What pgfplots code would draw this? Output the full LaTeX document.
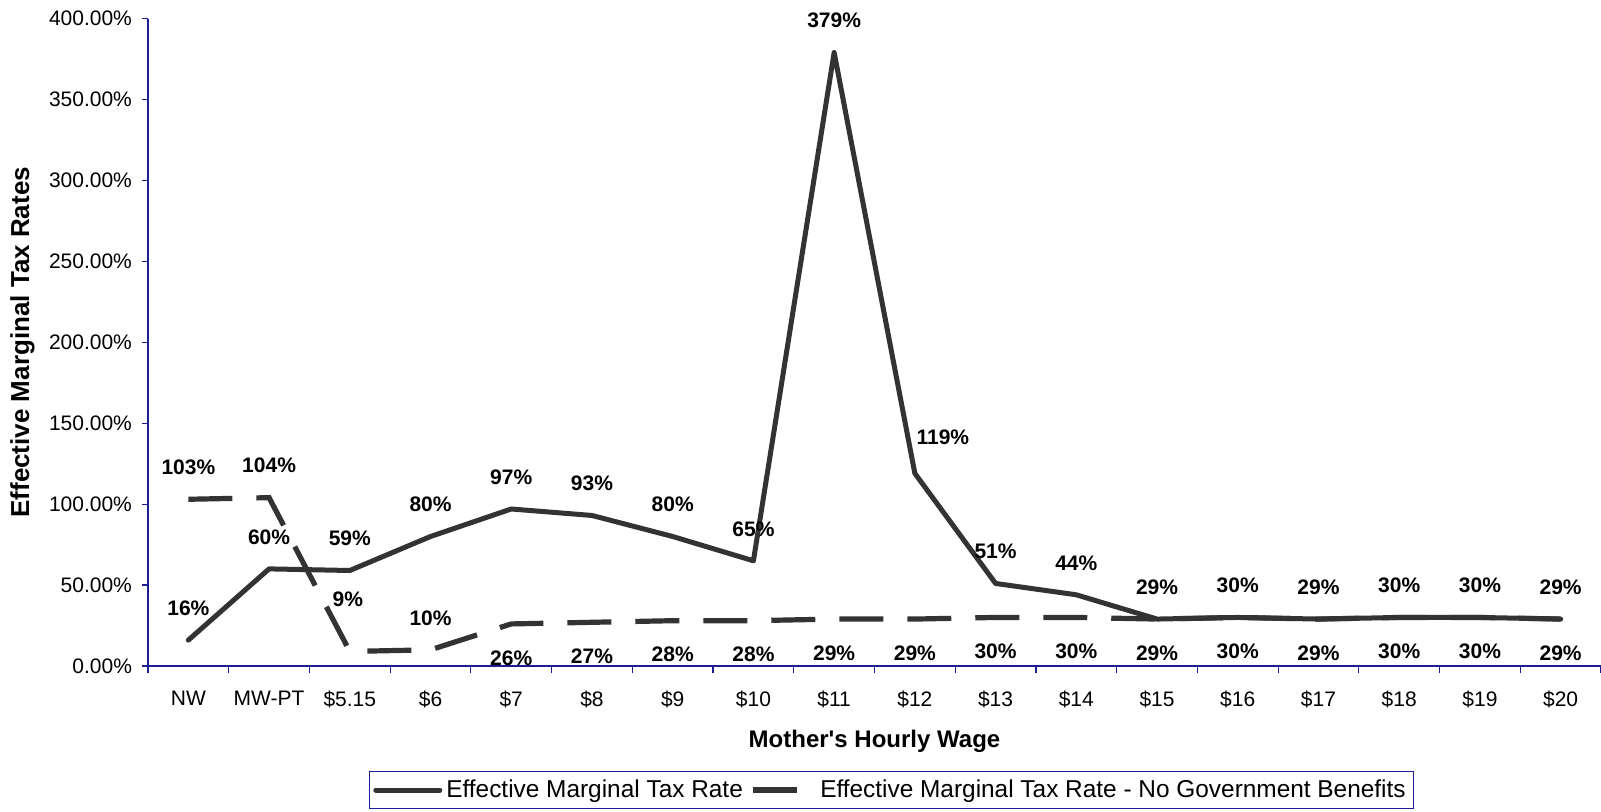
\documentclass[border=0pt]{standalone}
\usepackage{fontspec}
\setmainfont{Liberation Sans}
\usepackage{pgfplots}
\pgfplotsset{compat=1.18}
\definecolor{ser}{HTML}{333333}
\definecolor{axc}{HTML}{1C1C96}
\begin{document}
\begin{tikzpicture}
\useasboundingbox (-74pt,-72.5pt) rectangle (726.5pt,333pt);
\begin{axis}[
  at={(0,0)}, anchor=south west,
  scale only axis, width=726.5pt, height=323.75pt,
  xmin=-0.5, xmax=17.5, ymin=0, ymax=400,
  clip=false,
  axis lines*=left,
  axis line style={draw=axc, line width=0.6pt},
  tick align=outside,
  /pgf/number format/assume math mode=true,
  ytick={0,50,...,400},
  yticklabels={0.00\%,50.00\%,100.00\%,150.00\%,200.00\%,250.00\%,300.00\%,350.00\%,400.00\%},
  xtick={0,...,17},
  xticklabels={NW,MW-PT,\$5.15,\$6,\$7,\$8,\$9,\$10,\$11,\$12,\$13,\$14,\$15,\$16,\$17,\$18,\$19,\$20},
  minor xtick={-0.5,0.5,...,17.5},
  every major x tick/.append style={draw=none},
  major tick length=3pt,
  minor tick length=3.5pt,
  every tick/.append style={draw=axc, line width=0.6pt},
  ticklabel style={font=\fontsize{10.5}{12}\selectfont, text=black},
  xticklabel style={yshift=-6pt},
  yticklabel style={xshift=-1.5pt},
  xlabel={Mother\textquotesingle s Hourly Wage},
  ylabel={Effective Marginal Tax Rates},
  xlabel style={font=\bfseries\fontsize{12}{14}\selectfont, at={(axis description cs:0.5,-0.1158)}, anchor=center},
  ylabel style={font=\bfseries\fontsize{13}{15}\selectfont, at={(axis description cs:-0.0864,0.5)}, anchor=center},
  legend columns=2,
  legend cell align=left,
  legend style={at={(axis description cs:0.5117,-0.1915)}, anchor=center,
    draw=axc, line width=0.6pt, font=\fontsize{12.2}{14}\selectfont,
    inner xsep=2pt, inner ysep=2pt,
    /tikz/every even column/.append style={column sep=1.6pt}},
  every node near coord/.append style={font=\bfseries\fontsize{10.5}{12}\selectfont, text=black, anchor=center},
]
\addplot[ser, line width=2.5pt, line join=round, line cap=round,
  legend image code/.code={\draw[ser, line width=2.5pt] (0pt,0pt) -- (32pt,0pt);}]
  coordinates {(0,16)(1,60)(2,59)(3,80)(4,97)(5,93)(6,80)(7,65)(8,379)(9,119)(10,51)(11,44)(12,29)(13,30)(14,29)(15,30)(16,30)(17,29)};
\addplot[ser, line width=2.6pt, dash pattern=on 22pt off 12pt,
  legend image code/.code={\draw[ser, line width=2.6pt] (0pt,0pt) -- (18pt,0pt); \path (0pt,0pt) -- (30.5pt,0pt);}]
  coordinates {(0,103)(1,104)(2,9)(3,10)(4,26)(5,27)(6,28)(7,28)(8,29)(9,29)(10,30)(11,30)(12,29)(13,30)(14,29)(15,30)(16,30)(17,29)};
% labels, solid series
\addplot[draw=none, forget plot, nodes near coords={\pgfmathprintnumber{\pgfplotspointmeta}\%},
  every node near coord/.append style={yshift=16pt}]
  coordinates {(0,16)(1,60)(2,59)(3,80)(4,97)(5,93)(6,80)(7,65)(8,379)(10,51)(11,44)(12,29)(13,30)(14,29)(15,30)(16,30)(17,29)};
\addplot[draw=none, forget plot, nodes near coords={\pgfmathprintnumber{\pgfplotspointmeta}\%},
  every node near coord/.append style={yshift=18pt, xshift=14pt}]
  coordinates {(9,119)};
% labels, dashed series
\addplot[draw=none, forget plot, nodes near coords={\pgfmathprintnumber{\pgfplotspointmeta}\%},
  every node near coord/.append style={yshift=16pt}]
  coordinates {(0,103)(1,104)(3,10)};
\addplot[draw=none, forget plot, nodes near coords={\pgfmathprintnumber{\pgfplotspointmeta}\%},
  every node near coord/.append style={yshift=26pt, xshift=-1pt}]
  coordinates {(2,9)};
\addplot[draw=none, forget plot, nodes near coords={\pgfmathprintnumber{\pgfplotspointmeta}\%},
  every node near coord/.append style={yshift=-17pt}]
  coordinates {(4,26)(5,27)(6,28)(7,28)(8,29)(9,29)(10,30)(11,30)(12,29)(13,30)(14,29)(15,30)(16,30)(17,29)};
\legend{Effective Marginal Tax Rate, Effective Marginal Tax Rate - No Government Benefits}
\end{axis}
\end{tikzpicture}
\end{document}
